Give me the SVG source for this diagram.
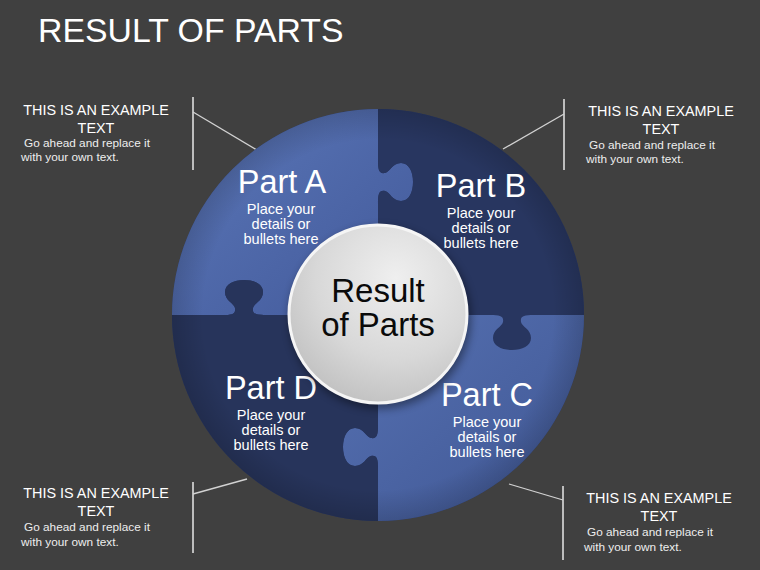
<svg xmlns="http://www.w3.org/2000/svg" width="760" height="570" viewBox="0 0 760 570">
  <defs>
    <style>
      text { font-family: "Liberation Sans", Arial, sans-serif; }
      .title { font-size: 33.8px; fill: #ffffff; }
      .head { font-size: 14.4px; fill: #ffffff; text-anchor: middle; }
      .small { font-size: 11.8px; fill: #eeeeee; }
      .part { font-size: 32.5px; fill: #ffffff; text-anchor: middle; }
      .body { font-size: 14.5px; fill: #ffffff; text-anchor: middle; }
      .center { font-size: 33px; fill: #0a0a0a; text-anchor: middle; }
      .vline { stroke: #bdbdbd; stroke-width: 2; fill: none; }
      .dline { stroke: #d2d2d2; stroke-width: 1.3; fill: none; }
    </style>
    <linearGradient id="gA" x1="0" y1="0" x2="1" y2="1">
      <stop offset="0" stop-color="#5b77b8"/>
      <stop offset="1" stop-color="#42599a"/>
    </linearGradient>
    <linearGradient id="gC" x1="0" y1="0" x2="1" y2="1">
      <stop offset="0" stop-color="#5671b2"/>
      <stop offset="1" stop-color="#3f5693"/>
    </linearGradient>
    <radialGradient id="rim" cx="0.5" cy="0.5" r="0.5">
      <stop offset="0.85" stop-color="#000000" stop-opacity="0"/>
      <stop offset="1" stop-color="#000000" stop-opacity="0.15"/>
    </radialGradient>
    <radialGradient id="gCenter" cx="0.6" cy="0.3" r="0.75">
      <stop offset="0" stop-color="#efefef"/>
      <stop offset="0.6" stop-color="#d8d8d8"/>
      <stop offset="1" stop-color="#c0c0c0"/>
    </radialGradient>
    <filter id="shadow" x="-20%" y="-20%" width="140%" height="140%">
      <feGaussianBlur stdDeviation="4"/>
    </filter>
  </defs>

  <rect x="0" y="0" width="760" height="570" fill="#404040"/>

  <text class="title" x="38" y="42">RESULT OF PARTS</text>

  <g id="connectors">
    <line class="vline" x1="193" y1="97" x2="193" y2="170"/>
    <line class="dline" x1="193" y1="112" x2="257" y2="150"/>
    <line class="vline" x1="564" y1="99" x2="564" y2="170"/>
    <line class="dline" x1="564" y1="114" x2="503" y2="149"/>
    <line class="vline" x1="193" y1="482" x2="193" y2="553"/>
    <line class="dline" x1="193" y1="494" x2="247" y2="479"/>
    <line class="vline" x1="563" y1="486" x2="563" y2="560"/>
    <line class="dline" x1="563" y1="500" x2="509" y2="484"/>
  </g>

  <g id="puzzle">
    <circle cx="378" cy="315" r="206" fill="#2a375f"/>
    <g id="part-a">
      <path fill="url(#gA)" d="M 378 315 L 378 204 C 378 194 379 190 385 191 C 390 192 392 201 401 201 C 409 201 413 192 413 182 C 413 172 409 163 401 163 C 392 163 390 172 385 173 C 379 174 378 170 378 160 L 378 109 A 206 206 0 0 0 172 315 L 222 315 C 232 315 236 314 235 308 C 234 303 225 301 225 292 C 225 284 234 280 244 280 C 254 280 263 284 263 292 C 263 301 254 303 253 308 C 252 314 256 315 266 315 Z"/>
    </g>
    <g id="part-b">
      <path fill="#283660" d="M 378 315 L 378 204 C 378 194 379 190 385 191 C 390 192 392 201 401 201 C 409 201 413 192 413 182 C 413 172 409 163 401 163 C 392 163 390 172 385 173 C 379 174 378 170 378 160 L 378 109 A 206 206 0 0 1 584 315 L 534 315 C 524 315 520 316 521 322 C 522 327 531 329 531 338 C 531 346 522 350 512 350 C 502 350 493 346 493 338 C 493 329 502 327 503 322 C 504 316 500 315 490 315 Z"/>
    </g>
    <g id="part-c">
      <path fill="url(#gC)" d="M 378 315 L 490 315 C 500 315 504 316 503 322 C 502 327 493 329 493 338 C 493 346 502 350 512 350 C 522 350 531 346 531 338 C 531 329 522 327 521 322 C 520 316 524 315 534 315 L 584 315 A 206 206 0 0 1 378 521 L 378 469 C 378 459 377 455 371 456 C 366 457 364 466 355 466 C 347 466 343 457 343 447 C 343 437 347 428 355 428 C 364 428 366 437 371 438 C 377 439 378 435 378 425 Z"/>
    </g>
    <g id="part-d">
      <path fill="#27345b" d="M 378 315 L 378 425 C 378 435 377 439 371 438 C 366 437 364 428 355 428 C 347 428 343 437 343 447 C 343 457 347 466 355 466 C 364 466 366 457 371 456 C 377 455 378 459 378 469 L 378 521 A 206 206 0 0 1 172 315 L 222 315 C 232 315 236 314 235 308 C 234 303 225 301 225 292 C 225 284 234 280 244 280 C 254 280 263 284 263 292 C 263 301 254 303 253 308 C 252 314 256 315 266 315 Z"/>
    </g>
    <circle cx="378" cy="315" r="206" fill="url(#rim)"/>
  </g>

  <g id="label-a">
    <text class="part" x="282" y="193">Part A</text>
    <text class="body" x="281" y="214">Place your</text>
    <text class="body" x="281" y="229">details or</text>
    <text class="body" x="281" y="244">bullets here</text>
  </g>
  <g id="label-b">
    <text class="part" x="481" y="197">Part B</text>
    <text class="body" x="481" y="218">Place your</text>
    <text class="body" x="481" y="233">details or</text>
    <text class="body" x="481" y="248">bullets here</text>
  </g>
  <g id="label-c">
    <text class="part" x="487" y="406">Part C</text>
    <text class="body" x="487" y="427">Place your</text>
    <text class="body" x="487" y="442">details or</text>
    <text class="body" x="487" y="457">bullets here</text>
  </g>
  <g id="label-d">
    <text class="part" x="271" y="399">Part D</text>
    <text class="body" x="271" y="420">Place your</text>
    <text class="body" x="271" y="435">details or</text>
    <text class="body" x="271" y="450">bullets here</text>
  </g>

  <g id="center">
    <circle cx="380" cy="318" r="91" fill="#000000" opacity="0.4" filter="url(#shadow)"/>
    <circle cx="378" cy="314" r="89" fill="url(#gCenter)" stroke="#f5f5f5" stroke-width="3"/>
    <text class="center" x="378" y="302">Result</text>
    <text class="center" x="378" y="336">of Parts</text>
  </g>

  <g id="callout-tl">
    <text class="head" x="96" y="115">THIS IS AN EXAMPLE</text>
    <text class="head" x="96" y="133">TEXT</text>
    <text class="small" x="24" y="147">Go ahead and replace it</text>
    <text class="small" x="21" y="161">with your own text.</text>
  </g>
  <g id="callout-tr">
    <text class="head" x="661" y="116">THIS IS AN EXAMPLE</text>
    <text class="head" x="661" y="134">TEXT</text>
    <text class="small" x="589" y="149">Go ahead and replace it</text>
    <text class="small" x="586" y="163">with your own text.</text>
  </g>
  <g id="callout-bl">
    <text class="head" x="96" y="498">THIS IS AN EXAMPLE</text>
    <text class="head" x="96" y="516">TEXT</text>
    <text class="small" x="24" y="531">Go ahead and replace it</text>
    <text class="small" x="21" y="546">with your own text.</text>
  </g>
  <g id="callout-br">
    <text class="head" x="659" y="503">THIS IS AN EXAMPLE</text>
    <text class="head" x="659" y="521">TEXT</text>
    <text class="small" x="587" y="536">Go ahead and replace it</text>
    <text class="small" x="584" y="551">with your own text.</text>
  </g>
</svg>
